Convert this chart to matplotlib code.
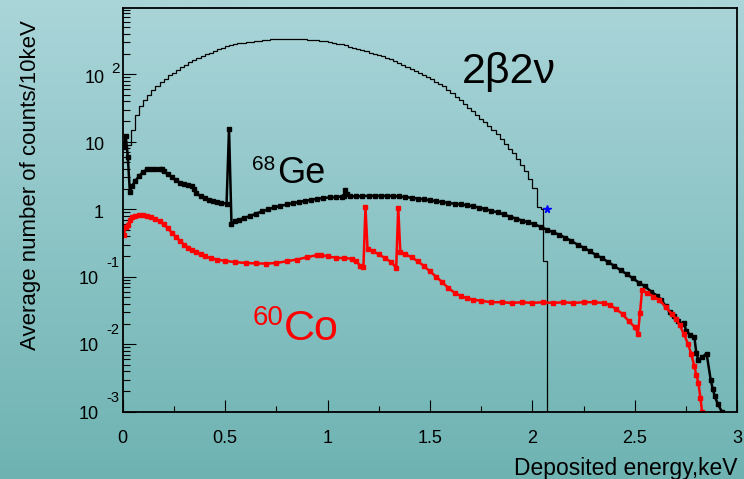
import numpy as np
import matplotlib
matplotlib.use("Agg")
import matplotlib.pyplot as plt
from matplotlib.ticker import FixedLocator, LogLocator, NullFormatter

plt.rcParams['font.family'] = ['Liberation Sans', 'DejaVu Sans']

W, H = 744, 479

# 2b2v spectrum, step histogram (left bin edges 0.00 .. 2.02, width 0.02)
bb_counts = [
    5, 9, 15, 25, 34, 42, 50, 58, 66, 76,
    86, 96, 106, 117, 128, 139, 150, 162, 174, 186,
    198, 210, 222, 236, 248, 262, 272, 280, 287, 294,
    299, 304, 310, 316, 322, 327, 331, 335, 337, 338,
    338, 337, 335, 332, 329, 326, 322, 318, 313, 307,
    300, 293, 285, 277, 268, 255, 247, 237, 228, 218,
    209, 200, 192, 184, 176, 166, 156, 146, 137, 129,
    121, 113, 106, 98, 91, 84, 77, 71, 66, 59,
    52, 46, 41, 36, 32, 28.5, 25, 22, 19.5, 17,
    15, 13, 11, 9.2, 7.8, 6.8, 5.6, 4.6, 3.7, 2.8,
    2.1, 1.1,
]
# last bins near the endpoint
bb_tail_edges = [2.053, 2.07, 2.09]
bb_tail_counts = [1.0, 0.17, 1e-6]

# 68Ge
ge_x = [0.005, 0.015, 0.025, 0.035, 0.045, 0.06, 0.08, 0.10, 0.12, 0.14,
        0.16, 0.18, 0.19, 0.20, 0.22, 0.24, 0.26, 0.28, 0.30, 0.32,
        0.34, 0.35, 0.36, 0.38, 0.40, 0.42, 0.44, 0.46, 0.48, 0.507,
        0.519, 0.531, 0.55, 0.57, 0.59, 0.62, 0.65, 0.68, 0.71, 0.74,
        0.77, 0.80, 0.83, 0.86, 0.89, 0.92, 0.95, 0.98, 1.01, 1.04,
        1.07, 1.08, 1.085, 1.095, 1.11, 1.14, 1.17, 1.20, 1.23, 1.26,
        1.29, 1.32, 1.35, 1.38, 1.41, 1.44, 1.47, 1.50, 1.53, 1.56,
        1.59, 1.62, 1.65, 1.68, 1.71, 1.74, 1.77, 1.80, 1.83, 1.86,
        1.89, 1.92, 1.95, 1.98, 2.01, 2.04, 2.07, 2.10, 2.13, 2.16,
        2.19, 2.22, 2.25, 2.28, 2.31, 2.34, 2.37, 2.40, 2.43, 2.46,
        2.49, 2.52, 2.55, 2.58, 2.61, 2.63, 2.65, 2.67, 2.69, 2.71,
        2.73, 2.74, 2.75, 2.77, 2.79, 2.80, 2.81, 2.83, 2.85, 2.87,
        2.88, 2.89, 2.905, 2.925]
ge_y = [8.3, 12, 6, 1.8, 2.2, 2.6, 3.1, 3.6, 3.9, 4.0,
        3.9, 3.9, 4.0, 3.7, 3.3, 3.0, 2.7, 2.45, 2.35, 2.3,
        2.25, 2.0, 1.75, 1.55, 1.45, 1.38, 1.32, 1.28, 1.25, 1.21,
        15.7, 0.61, 0.66, 0.70, 0.74, 0.79, 0.86, 0.93, 1.0, 1.07,
        1.12, 1.18, 1.23, 1.28, 1.33, 1.38, 1.43, 1.47, 1.50, 1.52,
        1.54, 1.6, 1.95, 1.7, 1.56, 1.55, 1.57, 1.58, 1.59, 1.58,
        1.58, 1.57, 1.55, 1.52, 1.48, 1.44, 1.40, 1.36, 1.32, 1.28,
        1.24, 1.21, 1.18, 1.15, 1.11, 1.06, 1.01, 0.95, 0.90, 0.84,
        0.78, 0.73, 0.68, 0.64, 0.60, 0.55, 0.50, 0.46, 0.42, 0.38,
        0.34, 0.30, 0.27, 0.24, 0.21, 0.19, 0.165, 0.145, 0.125, 0.11,
        0.095, 0.082, 0.072, 0.06, 0.052, 0.045, 0.037, 0.030, 0.026, 0.022,
        0.020, 0.021, 0.016, 0.0136, 0.013, 0.0075, 0.0058, 0.0065, 0.0073, 0.003,
        0.0022, 0.0017, 0.0013, 0.001]

# 60Co
co_x = [0.005, 0.015, 0.025, 0.035, 0.045, 0.06, 0.08, 0.10, 0.12, 0.14,
        0.16, 0.18, 0.20, 0.22, 0.24, 0.26, 0.28, 0.30, 0.32, 0.34,
        0.36, 0.38, 0.40, 0.43, 0.46, 0.50, 0.55, 0.60, 0.65, 0.70,
        0.75, 0.80, 0.85, 0.90, 0.95, 0.97, 1.00, 1.04, 1.08, 1.12,
        1.14, 1.16, 1.175, 1.185, 1.195, 1.22, 1.25, 1.28, 1.31, 1.335,
        1.345, 1.355, 1.38, 1.41, 1.44, 1.47, 1.50, 1.53, 1.56, 1.59,
        1.62, 1.65, 1.68, 1.71, 1.75, 1.80, 1.85, 1.90, 1.95, 2.00,
        2.05, 2.10, 2.15, 2.20, 2.25, 2.30, 2.35, 2.38, 2.41, 2.44,
        2.47, 2.50, 2.515, 2.525, 2.535, 2.56, 2.59, 2.62, 2.65, 2.68,
        2.70, 2.72, 2.74, 2.76, 2.775, 2.79, 2.80, 2.81, 2.82, 2.828]
co_y = [0.41, 0.55, 0.58, 0.70, 0.76, 0.80, 0.82, 0.81, 0.79, 0.76,
        0.72, 0.66, 0.60, 0.52, 0.45, 0.39, 0.34, 0.30, 0.27, 0.25,
        0.23, 0.215, 0.20, 0.19, 0.18, 0.172, 0.165, 0.16, 0.158, 0.157,
        0.16, 0.17, 0.18, 0.195, 0.21, 0.21, 0.20, 0.192, 0.188, 0.186,
        0.17, 0.145, 0.14, 1.08, 0.26, 0.24, 0.215, 0.19, 0.165, 0.137,
        1.06, 0.235, 0.215, 0.195, 0.17, 0.145, 0.12, 0.10, 0.083, 0.068,
        0.058, 0.052, 0.048, 0.046, 0.044, 0.042, 0.042, 0.041, 0.042, 0.041,
        0.042, 0.041, 0.042, 0.041, 0.042, 0.042, 0.041, 0.038, 0.033, 0.028,
        0.022, 0.018, 0.0144, 0.029, 0.063, 0.058, 0.051, 0.045, 0.036, 0.028,
        0.024, 0.019, 0.014, 0.010, 0.0072, 0.0048, 0.0035, 0.0027, 0.0016, 0.001]

# single measured point
star_x, star_y = 2.073, 1.02

x_ticks = [0, 0.5, 1, 1.5, 2, 2.5, 3]
x_tick_labels = ['0', '0.5', '1', '1.5', '2', '2.5', '3']
y_decades = [-3, -2, -1, 0, 1, 2]


def px(x, y):
    """pixel position (from top-left) to figure fraction"""
    return x / W, 1 - y / H


def draw_plot():
    fig = plt.figure(figsize=(W / 100, H / 100), dpi=100)

    # gradient background over the whole picture
    bg = fig.add_axes([0, 0, 1, 1], zorder=-1)
    top = np.array([170, 213, 217]) / 255
    bot = np.array([110, 179, 178]) / 255
    t = np.linspace(0, 1, 256)[:, None]
    grad = top[None, None, :] * (1 - t[:, :, None]) + bot[None, None, :] * t[:, :, None]
    bg.imshow(grad, aspect='auto', extent=[0, 1, 0, 1])
    bg.axis('off')

    ax = fig.add_axes([122.7 / W, 1 - 411.8 / H, (737.3 - 122.7) / W, (411.8 - 8.3) / H])
    ax.set_facecolor('none')
    ax.set_yscale('log')

    edges = np.append(np.round(np.arange(0, 2.041, 0.02), 2), bb_tail_edges)
    ax.stairs(bb_counts + bb_tail_counts, edges, baseline=None,
              color='black', lw=0.9)
    ax.plot(ge_x, ge_y, color='black', lw=1.8, marker='s', ms=2.2,
            mec='black', mfc='black')
    ax.plot(co_x, co_y, color='red', lw=1.8, marker='s', ms=2.2,
            mec='red', mfc='red')
    ax.plot([star_x], [star_y], marker='*', color='blue', ms=5.5, ls='none')

    ax.set_xlim(0, 3)
    ax.set_ylim(1e-3, 950)

    for s in ax.spines.values():
        s.set_linewidth(1.3)

    # x axis ticks
    ax.set_xticks(x_ticks)
    ax.set_xticklabels(x_tick_labels, fontsize=13)
    ax.xaxis.set_minor_locator(FixedLocator([0.25, 0.75, 1.25, 1.75, 2.25, 2.75]))
    ax.tick_params(axis='x', which='major', direction='in', length=8.6,
                   width=0.8, pad=13)
    ax.tick_params(axis='x', which='minor', direction='in', length=4.3,
                   width=0.8)

    # y axis ticks, labels drawn by hand in the ROOT way
    ax.yaxis.set_major_locator(LogLocator(base=10, numticks=20))
    ax.yaxis.set_minor_locator(LogLocator(base=10, subs=np.arange(2, 10), numticks=20))
    ax.yaxis.set_minor_formatter(NullFormatter())
    ax.tick_params(axis='y', which='major', direction='in', length=9.4,
                   width=0.8, labelleft=False)
    ax.tick_params(axis='y', which='minor', direction='in', length=5,
                   width=0.8)

    for d in y_decades:
        v = 10.0 ** d
        xy = dict(xy=(0, v), xycoords=('axes fraction', 'data'),
                  textcoords='offset pixels', va='baseline')
        if d == 0:
            ax.annotate('1', xytext=(-19.4, -8.7), ha='right', fontsize=13, **xy)
        elif d == 1:
            ax.annotate('10', xytext=(-17.7, -8.7), ha='right', fontsize=13, **xy)
        elif d > 1:
            ax.annotate('10', xytext=(-17.7, -8.7), ha='right', fontsize=13, **xy)
            ax.annotate(str(d), xytext=(-11, 1), ha='left', fontsize=11, **xy)
        else:
            ax.annotate('10', xytext=(-24.4, -7), ha='right', fontsize=13, **xy)
            ax.annotate(str(d), xytext=(-3.4, 10), ha='right', fontsize=10.5, **xy)

    # axis titles
    fig.text(*px(737, 475), 'Deposited energy,keV', ha='right', va='baseline',
             fontsize=16.5)
    fig.text(*px(31, 20), 'Average number of counts/10keV', rotation=90,
             ha='center', va='top', fontsize=16)

    # curve labels
    fig.text(*px(462, 83), '2\u03b22\u03bd', ha='left', va='baseline', fontsize=31)
    fig.text(*px(252, 170), '68', ha='left', va='baseline', fontsize=15)
    fig.text(*px(277, 183), 'Ge', ha='left', va='baseline', fontsize=26)
    fig.text(*px(253, 325), '60', ha='left', va='baseline', fontsize=20,
             color='red')
    fig.text(*px(284, 340), 'Co', ha='left', va='baseline', fontsize=31,
             color='red')

    fig.savefig('out.png', dpi=100)


def main():
    draw_plot()


if __name__ == "__main__":
    main()
